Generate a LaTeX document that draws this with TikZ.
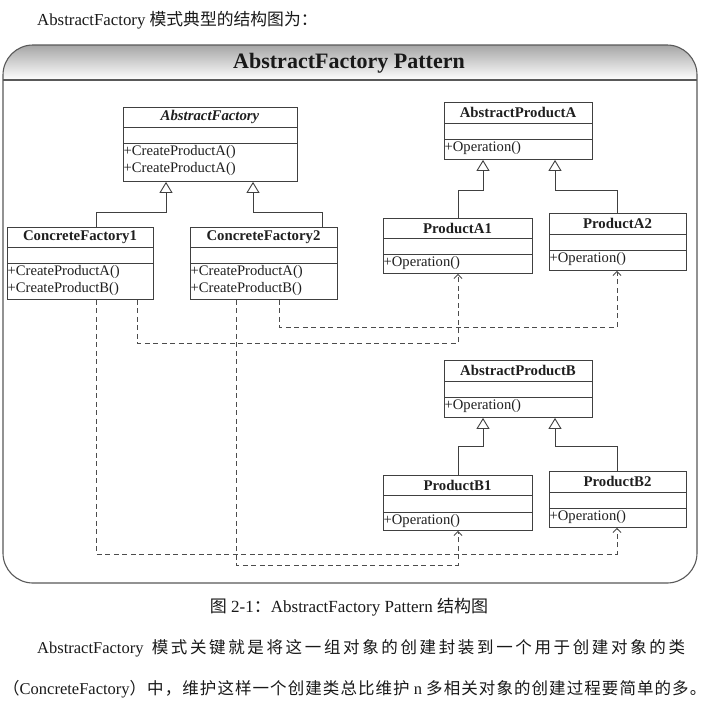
\documentclass[tikz,border=0pt]{standalone}
\usepackage{fontspec}
\setmainfont{Liberation Serif}
\newfontfamily\cjk{Noto Sans CJK SC}
\newfontfamily\cjkA[LetterSpace=16]{Noto Sans CJK SC}
\newfontfamily\cjkB[LetterSpace=6.5]{Noto Sans CJK SC}
\usetikzlibrary{arrows.meta}
\newcommand{\classbox}[9]{%
  \node[cls, minimum width={(#4-#2)*1pt}, minimum height={(#5-#3)*1pt}] (#1) at (#2,#3) {};
  \draw[sepline] (#2,#6) -- (#4,#6);
  \draw[sepline] (#2,#7) -- (#4,#7);
  \node[ctitle] (#1-t) at ({(#2+#4)/2},{(#3+#6)/2}) {#8};
  \node[cmeth] (#1-m) at (#2,#7) {#9};
}
\begin{document}
\begin{tikzpicture}[x=1pt,y=-1pt,
  sepline/.style={draw=black!75, line width=0.9pt},
  cls/.style={draw=black!75, line width=0.9pt, inner sep=0pt, anchor=north west},
  ctitle/.style={font=\fontsize{14.8}{17}\selectfont\bfseries, text=black!88, inner sep=0pt},
  cmeth/.style={font=\fontsize{14.6}{17}\selectfont, text=black!88, inner xsep=0.5pt, inner ysep=2.5pt, align=left, anchor=north west},
  gen/.style={draw=black!75, line width=0.9pt, -{Triangle[open, length=11pt, width=13pt, fill=white]}},
  dep/.style={draw=black!70, line width=0.9pt, dash pattern=on 5pt off 3.5pt, -{Straight Barb[length=4pt, width=8pt]}},
  frameline/.style={draw=black!65, line width=1.1pt},
  body/.style={text=black!90, inner sep=0pt}
]
\useasboundingbox (0,0) rectangle (709,705);
\fill[white] (0,0) rectangle (709,705);

% intro line
\node[body, anchor=west, font=\fontsize{16.8}{20}\selectfont] (intro) at (37,20) {AbstractFactory {\cjk 模式典型的结构图为：}};

% frame with shaded header
\begin{scope}
  \clip[rounded corners=30pt] (3,45) rectangle (697,583);
  \shade[top color=black!35, bottom color=white] (3,45) rectangle (697,80);
\end{scope}
\draw[frameline, rounded corners=30pt] (3,45) rectangle (697,583);
\draw[frameline] (3,80) -- (697,80);
\node[body, font=\fontsize{22}{26}\selectfont\bfseries] (title) at (349,63) {AbstractFactory Pattern};

% classes
\classbox{af}{123}{107}{297}{181}{127}{143}{\textit{AbstractFactory}}{+CreateProductA()\\+CreateProductA()}
\classbox{cf1}{7}{227}{153}{299}{247}{263}{ConcreteFactory1}{+CreateProductA()\\+CreateProductB()}
\classbox{cf2}{190}{227}{337}{299}{247}{263}{ConcreteFactory2}{+CreateProductA()\\+CreateProductB()}
\classbox{apa}{444}{102}{592}{159}{123}{139}{AbstractProductA}{+Operation()}
\classbox{pa1}{383}{218}{532}{273}{238}{254}{ProductA1}{+Operation()}
\classbox{pa2}{549}{213}{686}{270}{234}{250}{ProductA2}{+Operation()}
\classbox{apb}{444}{360}{592}{417}{381}{397}{AbstractProductB}{+Operation()}
\classbox{pb1}{383}{475}{532}{530}{495}{512}{ProductB1}{+Operation()}
\classbox{pb2}{549}{471}{686}{527}{492}{508}{ProductB2}{+Operation()}

% generalizations
\draw[gen] (96,0 |- cf1.north) |- (166,212) -- (166,0 |- af.south);
\draw[gen] (322,0 |- cf2.north) |- (253,212) -- (253,0 |- af.south);
\draw[gen] (458,0 |- pa1.north) |- (483,190) -- (483,0 |- apa.south);
\draw[gen] (617,0 |- pa2.north) |- (555,190) -- (555,0 |- apa.south);
\draw[gen] (458,0 |- pb1.north) |- (483,446) -- (483,0 |- apb.south);
\draw[gen] (617,0 |- pb2.north) |- (555,446) -- (555,0 |- apb.south);

% dependencies
\draw[dep] (137,0 |- cf1.south) |- (458,343) -- (458,0 |- pa1.south);
\draw[dep] (279,0 |- cf2.south) |- (617,327) -- (617,0 |- pa2.south);
\draw[dep] (96,0 |- cf1.south) |- (617,554) -- (617,0 |- pb2.south);
\draw[dep] (236,0 |- cf2.south) |- (458,565) -- (458,0 |- pb1.south);

% caption and paragraph
\node[body, font=\fontsize{17}{20}\selectfont] (cap) at (349,607) {{\cjk 图} 2-1{\cjk ：}AbstractFactory Pattern {\cjk 结构图}};
\node[body, anchor=west, font=\fontsize{16.5}{20}\selectfont] (p1) at (37,648) {AbstractFactory\ \ {\cjkA 模式关键就是将这一组对象的创建封装到一个用于创建对象的类}};
\node[body, anchor=west, font=\fontsize{16.5}{20}\selectfont] (p2) at (3,689) {{\cjkB （}ConcreteFactory{\cjkB ）中，维护这样一个创建类总比维护} n {\cjkB 多相关对象的创建过程要简单的多。}};
\end{tikzpicture}
\end{document}
